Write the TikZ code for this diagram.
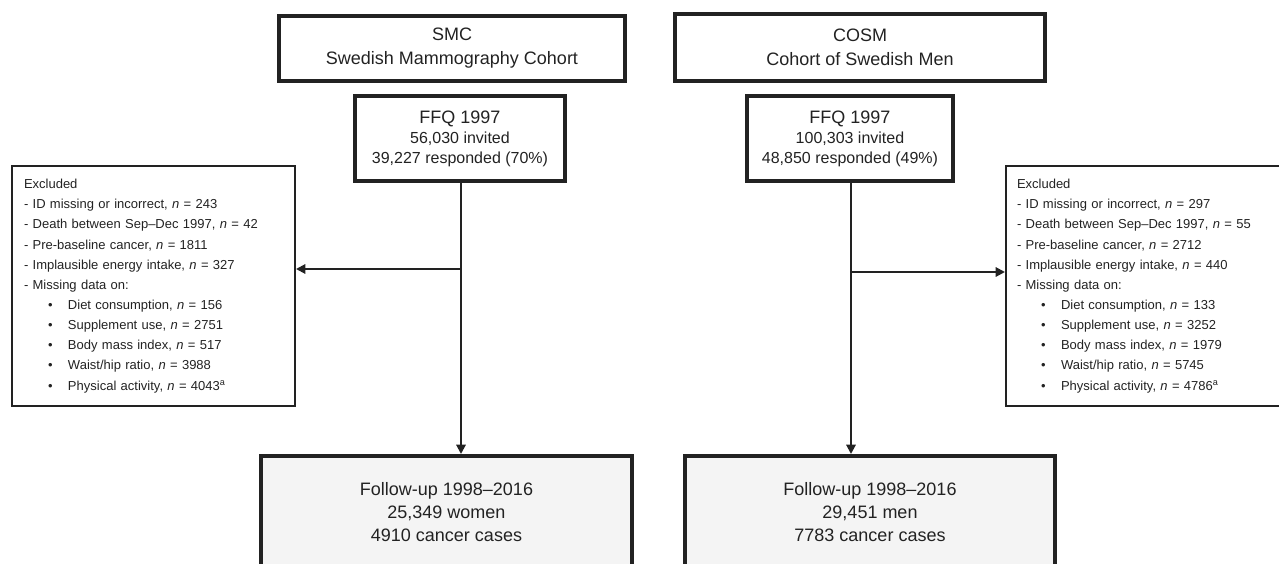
\documentclass[tikz,border=0pt]{standalone}
\usepackage{fontspec}
\setmainfont{Liberation Sans}
\usetikzlibrary{arrows.meta}
\definecolor{ink}{HTML}{222222}
\definecolor{pale}{HTML}{F4F4F4}
\newcommand{\bitem}[1]{\hspace*{18pt}\makebox[15pt][l]{\textbullet}#1}
\begin{document}
\begin{tikzpicture}[x=0.75pt,y=-0.75pt,
    cohort/.style ={rectangle, draw=ink, line width=3pt, inner sep=0pt, align=center, text=ink,
      font=\fontsize{13.5}{18}\selectfont},
    survey/.style ={cohort, font=\fontsize{12}{14.5}\selectfont},
    followup/.style ={cohort, fill=pale, font=\fontsize{13.5}{17.25}\selectfont},
    excluded/.style ={rectangle, draw=ink, line width=1.5pt, inner ysep=0pt, align=left, text=ink,
      minimum height=180pt, font=\fontsize{9.75}{15.1}\selectfont},
    link/.style ={draw=ink, line width=1.5pt, -{Triangle[length=7pt,width=7pt]}}]
   \useasboundingbox (0,0) rectangle (1279,564);
   % women
   \node[cohort, minimum width=259.5pt, minimum height=48.75pt] (smc) at (452,48.5)
     {SMC\\Swedish Mammography Cohort};
   \node[survey, minimum width=157.5pt, minimum height=63.75pt] (ffqS) at (460,138.5)
     {{\fontsize{13.5}{14.5}\selectfont FFQ 1997}\\[1pt]56,030 invited\\39,227 responded (70\%)};
   \node[excluded, minimum width=212.25pt, text width=194.25pt, inner xsep=9pt] (exS) at (153.5,286)
     {Excluded\\
      - ID missing or incorrect, \textit{n} = 243\\
      - Death between Sep–Dec 1997, \textit{n} = 42\\
      - Pre-baseline cancer, \textit{n} = 1811\\
      - Implausible energy intake, \textit{n} = 327\\
      - Missing data on:\\
      \bitem{Diet consumption, \textit{n} = 156}\\
      \bitem{Supplement use, \textit{n} = 2751}\\
      \bitem{Body mass index, \textit{n} = 517}\\
      \bitem{Waist/hip ratio, \textit{n} = 3988}\\
      \bitem{Physical activity, \textit{n} = 4043\textsuperscript{a}}};
   \node[followup, minimum width=278.25pt, minimum height=84pt] (fuS) at (446.5,512)
     {Follow-up 1998–2016\\25,349 women\\4910 cancer cases};
   % men
   \node[cohort, minimum width=277.5pt, minimum height=50.25pt] (cosm) at (860,47.5)
     {COSM\\Cohort of Swedish Men};
   \node[survey, minimum width=154.5pt, minimum height=63.75pt] (ffqC) at (850,138.5)
     {{\fontsize{13.5}{14.5}\selectfont FFQ 1997}\\[1pt]100,303 invited\\48,850 responded (49\%)};
   \node[excluded, minimum width=220.5pt, text width=204pt, inner xsep=8.25pt] (exC) at (1153,286)
     {Excluded\\
      - ID missing or incorrect, \textit{n} = 297\\
      - Death between Sep–Dec 1997, \textit{n} = 55\\
      - Pre-baseline cancer, \textit{n} = 2712\\
      - Implausible energy intake, \textit{n} = 440\\
      - Missing data on:\\
      \bitem{Diet consumption, \textit{n} = 133}\\
      \bitem{Supplement use, \textit{n} = 3252}\\
      \bitem{Body mass index, \textit{n} = 1979}\\
      \bitem{Waist/hip ratio, \textit{n} = 5745}\\
      \bitem{Physical activity, \textit{n} = 4786\textsuperscript{a}}};
   \node[followup, minimum width=277.5pt, minimum height=84pt] (fuC) at (870,512)
     {Follow-up 1998–2016\\29,451 men\\7783 cancer cases};
   % connectors
   \coordinate (brS) at (461,269);
   \coordinate (brC) at (851,272);
   \draw[link] (ffqS.south -| brS) to (brS |- fuS.north);
   \draw[link] (brS) to (brS -| exS.east);
   \draw[link] (ffqC.south -| brC) to (brC |- fuC.north);
   \draw[link] (brC) to (brC -| exC.west);
 \end{tikzpicture}
\end{document}
